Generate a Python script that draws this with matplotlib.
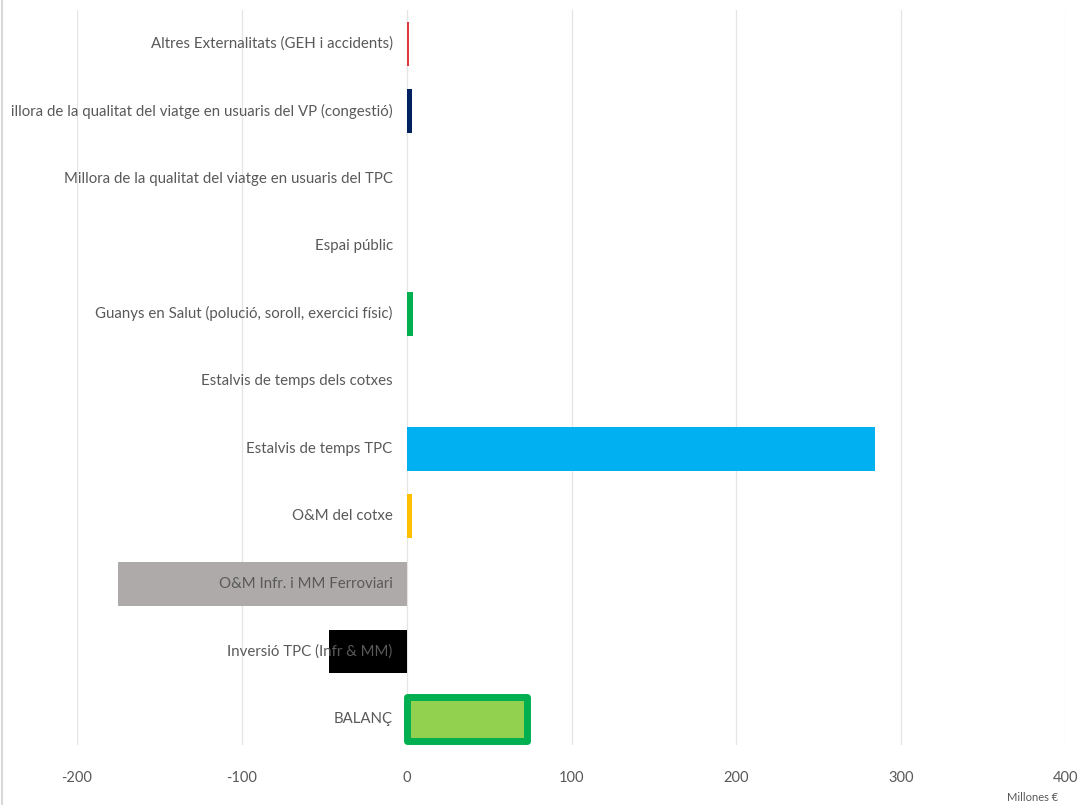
import matplotlib
matplotlib.use("Agg")
import matplotlib.pyplot as plt
from matplotlib import transforms
from matplotlib.lines import Line2D

# categories from top to bottom
categories = [
    "Altres Externalitats (GEH i accidents)",
    "Millora de la qualitat del viatge en usuaris del VP (congestió)",
    "Millora de la qualitat del viatge en usuaris del TPC",
    "Espai públic",
    "Guanys en Salut (polució, soroll, exercici físic)",
    "Estalvis de temps dels cotxes",
    "Estalvis de temps TPC",
    "O&M del cotxe",
    "O&M Infr. i MM Ferroviari",
    "Inversió TPC (Infr & MM)",
    "BALANÇ",
]
values = [1.3, 3.5, 0, 0, 4, 0, 284, 3, -175, -47, 73]
colors = ["#E0393E", "#002060", "#00B0F0", "#A5A5A5", "#00B050", "#4472C4",
          "#00B0F0", "#FFC000", "#AEAAAA", "#000000", "#92D050"]
xticks = [-200, -100, 0, 100, 200, 300, 400]

W, H = 1083, 805
fig = plt.figure(figsize=(W / 100, H / 100), dpi=100)
ax = fig.add_axes([77 / W, 1 - 745 / H, (1066 - 77) / W, (745 - 10) / H])

n = len(categories)
ypos = [n - 1 - i for i in range(n)]

for y, v, c, name in zip(ypos, values, colors, categories):
    if name == "BALANÇ":
        ax.barh(y, v, height=0.65, color=c, edgecolor="#00B050",
                linewidth=5, joinstyle="round", zorder=3)
    else:
        ax.barh(y, v, height=0.65, color=c, zorder=3)

ax.set_xlim(-200, 400)
ax.set_ylim(-0.385, 10.5)
ax.set_xticks(xticks)
ax.set_xticklabels([str(t) for t in xticks])
ax.set_yticks([])
ax.grid(axis="x", color="#E4E4E4", linewidth=0.9, zorder=0)
ax.set_axisbelow(True)
for s in ax.spines.values():
    s.set_visible(False)
ax.tick_params(axis="x", length=0, pad=19, labelsize=10.5, labelcolor="#595959")
for lbl in ax.get_xticklabels():
    lbl.set_family("Lato")

# category names sit just left of the zero line, clipped by the chart frame
lbl_tr = transforms.offset_copy(ax.transData, fig=fig, x=-14, y=0, units="dots")
clip = transforms.TransformedBbox(
    transforms.Bbox([[11 / W, 0], [1, 1]]), fig.transFigure)
for y, name in zip(ypos, categories):
    t = ax.text(0, y, name, transform=lbl_tr, ha="right", va="center",
                fontsize=10.8, color="#595959", family="Lato", zorder=5)
    t.set_clip_box(clip)
    t.set_clip_on(True)

fig.text(1033 / W, 1 - 797 / H, "Millones €", ha="center", va="center",
         fontsize=8, color="#595959", family="Lato")

# chart frame edge on the left
fig.add_artist(Line2D([2 / W, 2 / W], [0, 1], transform=fig.transFigure,
                      color="#D9D9D9", linewidth=1.5))

fig.savefig("out.png", dpi=100)
